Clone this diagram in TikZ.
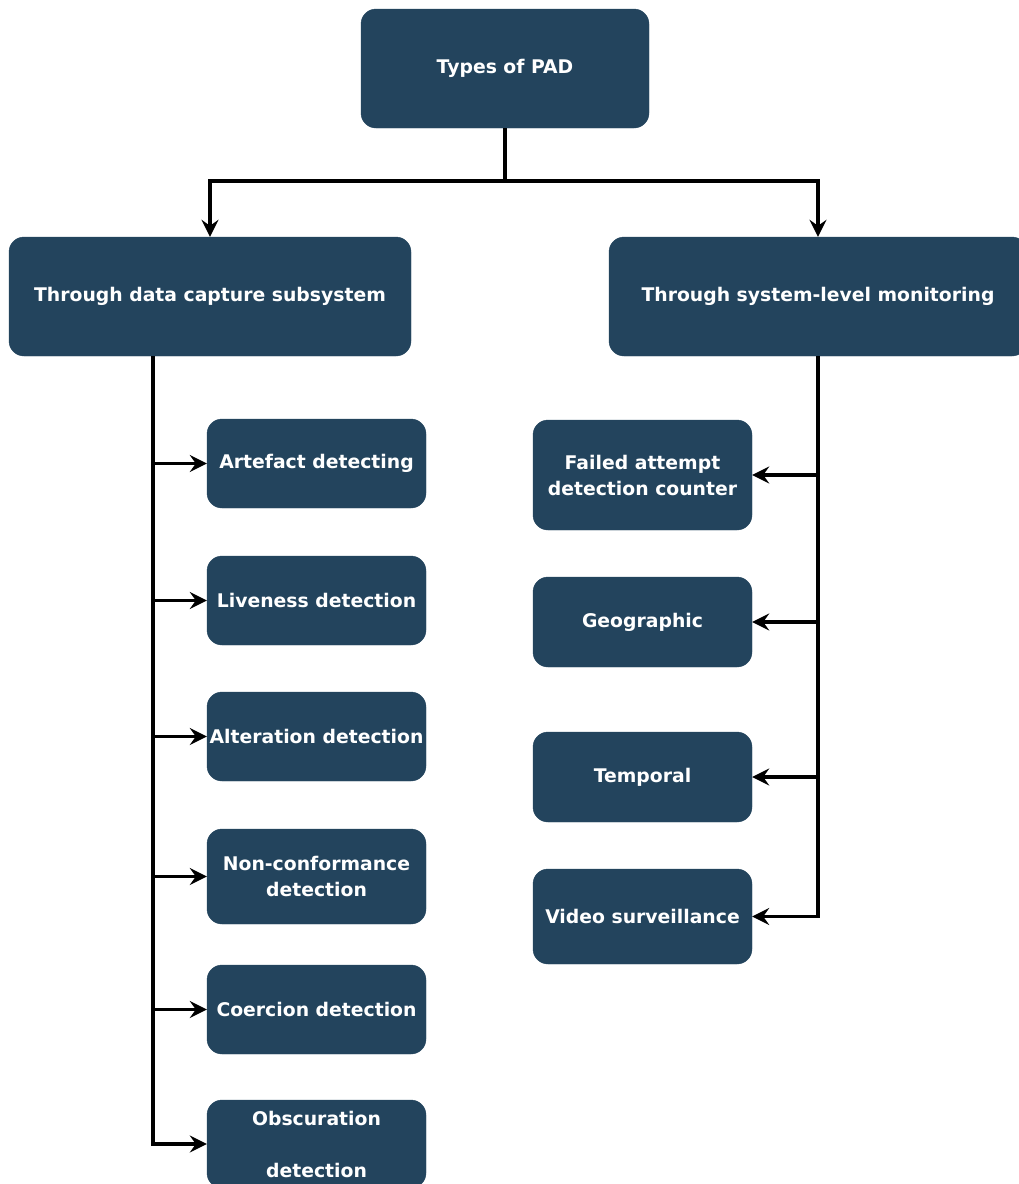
\documentclass[tikz,border=0pt]{standalone}
\usepackage{fontspec}
\setmainfont{DejaVu Sans}
\usetikzlibrary{arrows.meta}
\definecolor{boxblue}{HTML}{23445D}
\begin{document}
\begin{tikzpicture}[x=1pt,y=-1pt,
  box/.style={draw=boxblue, fill=boxblue, rounded corners=15pt, text=white,
    font=\fontsize{18.8}{26}\selectfont\bfseries, align=center, inner sep=0pt},
  link/.style={line width=3.2pt, draw=black},
  tip/.style={link, -{Stealth[length=17pt,width=17pt,inset=6pt]}}]
\useasboundingbox (0,0) rectangle (1018,1184);
% top level
\node[box, minimum width=288pt, minimum height=119pt] (pad) at (505,68.5) {Types of PAD};
% second level
\node[box, minimum width=402pt, minimum height=119pt] (cap) at (210,296.5) {Through data capture subsystem};
\node[box, minimum width=418pt, minimum height=119pt] (sys) at (818,296.5) {Through system-level monitoring};
% data capture subsystem branches
\node[box, minimum width=219pt, minimum height=89pt] (art) at (316.5,463.5) {Artefact detecting};
\node[box, minimum width=219pt, minimum height=89pt] (liv) at (316.5,600.5) {Liveness detection};
\node[box, minimum width=219pt, minimum height=89pt] (alt) at (316.5,736.5) {Alteration detection};
\node[box, minimum width=219pt, minimum height=95pt] (non) at (316.5,876.5) {Non-conformance\\detection};
\node[box, minimum width=219pt, minimum height=89pt] (coe) at (316.5,1009.5) {Coercion detection};
\node[box, minimum width=219pt, minimum height=88pt] (obs) at (316.5,1144) {Obscuration\\[26pt]detection};
% system-level monitoring branches
\node[box, minimum width=219pt, minimum height=110pt] (fail) at (642.5,475) {Failed attempt\\detection counter};
\node[box, minimum width=219pt, minimum height=90pt] (geo) at (642.5,622) {Geographic};
\node[box, minimum width=219pt, minimum height=90pt] (tem) at (642.5,777) {Temporal};
\node[box, minimum width=219pt, minimum height=95pt] (vid) at (642.5,916.5) {Video surveillance};
% connectors from the root
\coordinate (split) at (505,181);
\draw[link] (pad.south) -- (split);
\draw[tip] (split) -| (cap.north);
\draw[tip] (split) -| (sys.north);
% left trunk
\coordinate (lt) at (153,356);
\draw[link] (lt) -- (153,1143);
\foreach \n in {art,liv,alt,non,coe}
  \draw[tip] (lt |- \n.west) -- (\n.west);
\draw[tip] (lt) |- (obs.west);
% right trunk
\coordinate (rt) at (818,356);
\draw[link] (rt) -- (818,916.5);
\foreach \n in {fail,geo,tem}
  \draw[tip] (rt |- \n.east) -- (\n.east);
\draw[tip] (rt) |- (vid.east);
\end{tikzpicture}
\end{document}
